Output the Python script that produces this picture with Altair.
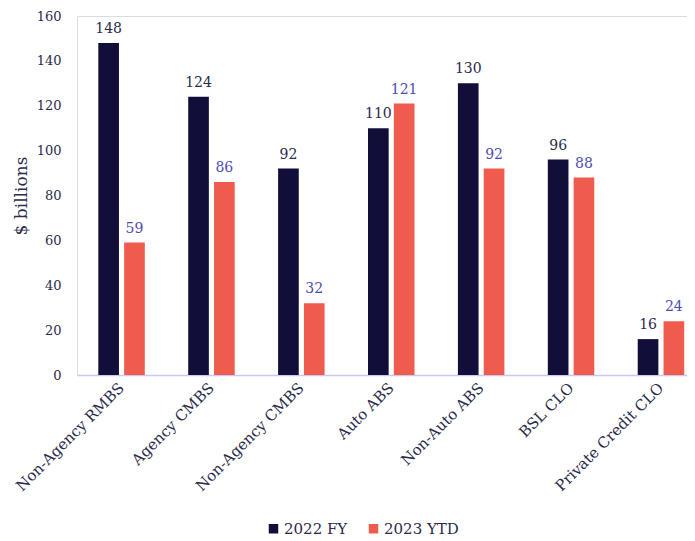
import altair as alt
import pandas as pd

categories = ["Non-Agency RMBS", "Agency CMBS", "Non-Agency CMBS", "Auto ABS",
              "Non-Auto ABS", "BSL CLO", "Private Credit CLO"]
series_names = ["2022 FY", "2023 YTD"]
values_2022 = [148, 124, 92, 110, 130, 96, 16]
values_2023 = [59, 86, 32, 121, 92, 88, 24]

rows = []
for c, a, b in zip(categories, values_2022, values_2023):
    rows.append({"category": c, "series": series_names[0], "value": a})
    rows.append({"category": c, "series": series_names[1], "value": b})
df = pd.DataFrame(rows)

FONT = "DejaVu Serif"
TEXT = "#2b2b4b"

x_enc = alt.X("category:N", sort=categories, title=None,
              scale=alt.Scale(range=[0, 628.5], paddingInner=0.483, paddingOuter=0.237),
              axis=alt.Axis(labelAngle=-45, labelAlign="right", labelBaseline="middle",
                            labelPadding=10, ticks=False, domainColor="#c8c8f0",
                            domainWidth=1.5, labelFontSize=15, labelColor=TEXT,
                            labelFont=FONT))
xo_enc = alt.XOffset("series:N", sort=series_names,
                     scale=alt.Scale(paddingInner=0.2, paddingOuter=0))
y_enc = alt.Y("value:Q", title="$ billions",
              scale=alt.Scale(domain=[0, 160], nice=False),
              axis=alt.Axis(values=[0, 20, 40, 60, 80, 100, 120, 140, 160], grid=False,
                            domain=False, ticks=False, labelPadding=16,
                            labelFontSize=13, labelColor=TEXT, labelFont=FONT,
                            titleFontSize=17, titleColor=TEXT, titleFont=FONT,
                            titleFontWeight="normal", titlePadding=6))

bars = alt.Chart(df).mark_bar().encode(
    x=x_enc, xOffset=xo_enc, y=y_enc,
    color=alt.Color("series:N", sort=series_names,
                    scale=alt.Scale(domain=series_names, range=["#120e3a", "#ef5b4c"]),
                    legend=alt.Legend(title=None, orient="none", direction="horizontal",
                                      legendX=189, legendY=505, symbolType="square",
                                      symbolSize=90, symbolStrokeWidth=0,
                                      labelFontSize=15, labelFont=FONT, labelColor=TEXT,
                                      columnPadding=18, labelOffset=3))
)

labels = alt.Chart(df).mark_text(baseline="bottom", dy=-7, fontSize=14, font=FONT).encode(
    x=alt.X("category:N", sort=categories),
    xOffset=alt.XOffset("series:N", sort=series_names),
    y=alt.Y("value:Q"),
    text=alt.Text("value:Q"),
    color=alt.Color("series:N", sort=series_names,
                    scale=alt.Scale(domain=series_names, range=["#2b2b4b", "#4c4cb0"]),
                    legend=None)
)

chart = alt.layer(bars, labels).resolve_scale(color="independent").properties(
    width=610, height=359,
    autosize=alt.AutoSizeParams(type="none"),
    padding={"left": 69, "top": 8, "right": 0, "bottom": 166},
).configure_view(stroke=None).configure(background="white", font=FONT).configure_legend(
    labelFont=FONT, labelFontSize=15, labelColor=TEXT)

chart.save("out.html", embed_options={"renderer": "svg", "actions": False})
